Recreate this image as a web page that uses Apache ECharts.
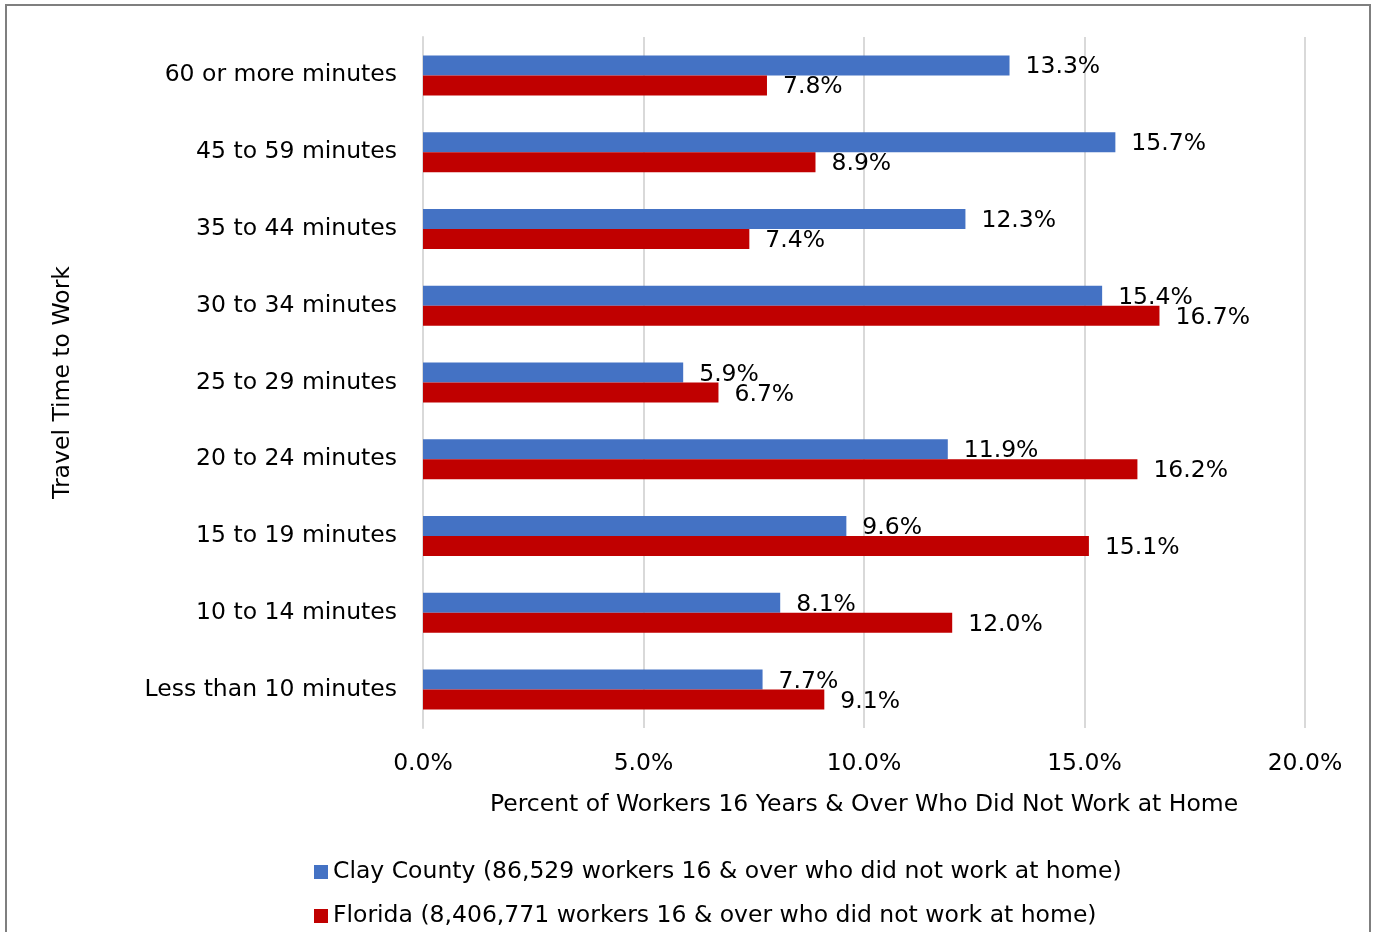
<!DOCTYPE html>
<html>
<head>
<meta charset="utf-8">
<script src="https://cdn.jsdelivr.net/npm/echarts@6/dist/echarts.min.js"></script>
<style>
html,body{margin:0;padding:0;background:#fff;}
#frame{position:absolute;left:5px;top:4px;width:1366px;height:940px;border:2px solid #7f7f7f;box-sizing:border-box;}
#chart{position:absolute;left:0;top:0;width:1375px;height:932px;}
</style>
</head>
<body>
<div id="frame"></div>
<div id="chart"></div>
<script>
const categories = ["Less than 10 minutes","10 to 14 minutes","15 to 19 minutes","20 to 24 minutes","25 to 29 minutes","30 to 34 minutes","35 to 44 minutes","45 to 59 minutes","60 or more minutes"];
const clayValues = [7.7, 8.1, 9.6, 11.9, 5.9, 15.4, 12.3, 15.7, 13.3];
const floridaValues = [9.1, 12.0, 15.1, 16.2, 6.7, 16.7, 7.4, 8.9, 7.8];
const seriesNames = ["Clay County (86,529 workers 16 & over who did not work at home)","Florida (8,406,771 workers 16 & over who did not work at home)"];
const xTicks = [0, 5, 10, 15, 20];

const font = "DejaVu Sans, sans-serif";
const fs = 23.5;
const chart = echarts.init(document.getElementById('chart'));
const lbl = {show:true, position:'right', distance:16, offset:[0,2], color:'#000', fontSize:fs, fontFamily:font, formatter:p=>p.value.toFixed(1)+'%'};
const legendBase = {orient:'horizontal', left:309, itemWidth:14, itemHeight:14, icon:'rect', itemGap:5,
  textStyle:{fontSize:fs, color:'#000', fontFamily:font}};
chart.setOption({
  animation:false,
  textStyle:{fontFamily:font},
  grid:{left:423, right:70, top:37, bottom:204, containLabel:false},
  legend:[
    Object.assign({}, legendBase, {top:855, data:[seriesNames[0]]}),
    Object.assign({}, legendBase, {top:899, data:[seriesNames[1]]})
  ],
  xAxis:{
    type:'value', min:0, max:20, interval:5,
    axisLabel:{formatter:v=>v.toFixed(1)+'%', fontSize:fs, color:'#000', margin:24, fontFamily:font},
    splitLine:{lineStyle:{color:'#d9d9d9', width:2}},
    axisLine:{show:false}, axisTick:{show:false},
    name:'Percent of Workers 16 Years & Over Who Did Not Work at Home',
    nameLocation:'middle', nameGap:65,
    nameTextStyle:{fontSize:fs, color:'#000', fontFamily:font}
  },
  yAxis:{
    type:'category', data:categories,
    axisLabel:{fontSize:fs, color:'#000', margin:26, fontFamily:font, padding:[8,0,0,0]},
    axisLine:{show:true, lineStyle:{color:'#d9d9d9', width:2}},
    axisTick:{show:false},
    name:'Travel Time to Work', nameLocation:'middle', nameGap:348, nameRotate:90,
    nameTextStyle:{fontSize:fs, color:'#000', fontFamily:font}
  },
  series:[
    {name:seriesNames[0], type:'bar', data:clayValues, barWidth:20, barGap:'0%', itemStyle:{color:'#4472c4'}, label:lbl},
    {name:seriesNames[1], type:'bar', data:floridaValues, barWidth:20, barGap:'0%', itemStyle:{color:'#c00000'}, label:lbl}
  ]
});
</script>
</body>
</html>
